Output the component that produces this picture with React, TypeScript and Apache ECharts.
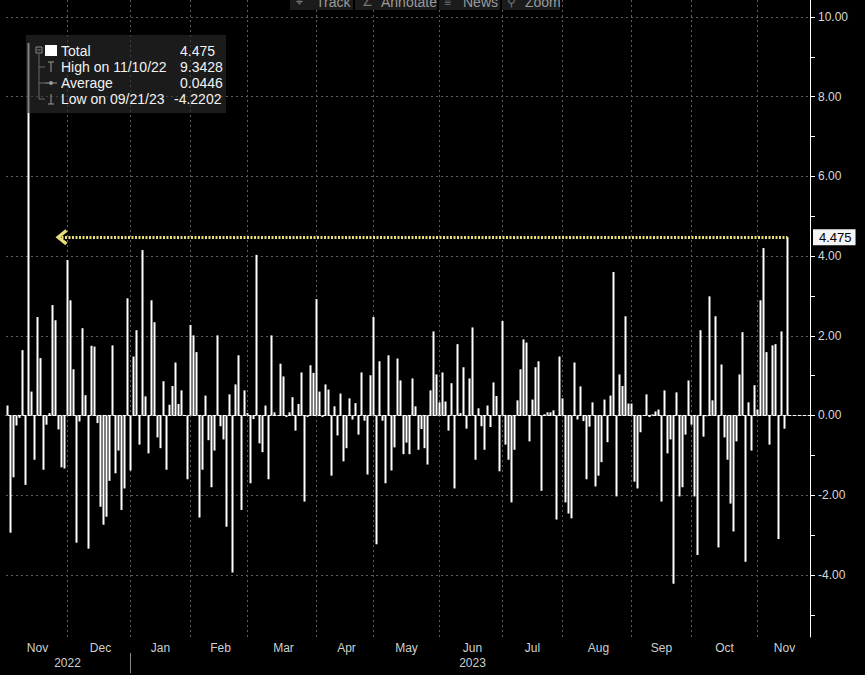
import React, { useEffect, useRef } from 'react';
import * as echarts from 'echarts';

// ---- data (daily % change, trading days) ----
const monthNames = ['Nov', 'Dec', 'Jan', 'Feb', 'Mar', 'Apr', 'May', 'Jun', 'Jul', 'Aug', 'Sep', 'Oct', 'Nov'];
const monthYears = [2022, 2022, 2023, 2023, 2023, 2023, 2023, 2023, 2023, 2023, 2023, 2023, 2023];
const nov22 = [0.25, -2.94, -1.55, -0.25, -0.06, 1.64, -1.74, 9.3428, 0.6, -1.11, 2.47, 1.44, -1.36, -0.23, 0.06, 2.77, 2.39, -0.35, -1.3, -1.33, 3.9];
const dec22 = [2.89, 1.16, -3.19, -0.15, 2.19, 0.51, -3.34, 1.75, 1.73, -0.19, -2.29, -2.74, -2.54, -1.64, 1.76, -1.45, -0.88, -2.37, -1.83, 2.94, -1.38];
const jan23 = [1.48, 2.14, -0.73, 4.15, 0.48, -0.95, 2.89, 2.34, -0.55, -0.82, 0.86, -1.36, 0.27, 0.74, 1.33, 0.29, 0.63, 0.01, -1.6, 2.27];
const feb23 = [2.01, 1.59, -2.56, -1.36, 0.5, -0.62, -1.8, -0.88, 2.01, -0.27, -0.6, -2.79, 0.53, -3.94, 0.78, 1.51, -2.37, 0.63, 0.06];
const mar23 = [-1.7, -0.09, 4.03, -0.7, -0.92, 0.25, -1.6, 2.01, 0.08, 0.01, 1.3, 0.98, -0.04, 0.08, 0.46, -0.38, 0.29, 1.08, -2.16, -0.04, 1.26, 1.07, 2.92];
const apr23 = [0.6, -0.04, 0.78, 0.65, -1.51, 0.23, -0.5, 0.55, -1.15, -0.82, 0.43, -0.1, 0.31, -0.48, 1.08, -0.13, -1.48, 1.01, 2.47];
const may23 = [-3.23, 1.36, -0.13, -1.7, 1.51, -1.38, -0.8, 1.43, 0.88, -0.97, -0.68, -0.97, 0.93, 0.23, -0.86, -0.34, -0.82, -1.23, 0.63, 2.11, 1.03, 0.33];
const jun23 = [1.08, 0.35, -0.38, 0.81, -1.83, 1.79, 0.06, 1.21, -0.33, 0.93, 2.21, -1.11, 0.18, -0.27, -0.86, 0.25, -0.29, 0.83, 0.49, -1.4, 2.37];
const jul23 = [-0.73, -1.11, -2.18, -0.86, 0.38, 1.16, 1.91, 1.83, -0.65, 0.4, 1.21, 1.36, -1.89, 0.03, 0.08, 0.08, 0.13, -2.61, 1.48, 0.43];
const aug23 = [-2.18, -2.46, -2.58, 1.33, -0.1, 0.73, -0.14, -1.6, -0.28, 0.33, -1.78, -1.51, -1.17, 0.4, -0.67, 0.5, 3.6, -2.03, 1.03, 0.74, 2.49, 0.3, 0.3];
const sep23 = [-1.66, -1.83, -0.42, -0.01, 0.53, -0.04, 0.03, 0.1, 0.15, -2.16, 0.63, -0.95, -0.6, -4.2202, 0.58, -2.03, -1.8, -0.48, 0.88, -0.23];
const oct23 = [-2.03, -3.5, 2.14, -0.53, -0.02, 2.99, 0.38, 2.49, -3.31, 1.28, -0.55, -1.11, -2.21, -2.91, -0.65, 1.03, 2.09, -3.67, 0.33, -0.88, 0.76, 0.15];
const nov23 = [2.89, 4.2, 1.59, -0.73, 1.76, 1.79, -3.1, 2.11, -0.33, 4.475];
const monthValues = [nov22, dec22, jan23, feb23, mar23, apr23, may23, jun23, jul23, aug23, sep23, oct23, nov23];

const yTickValues = [-4, -2, 0, 2, 4, 6, 8, 10];
const yMinorValues = [-5, -4, -3, -2, -1, 0, 1, 2, 3, 4, 5, 6, 7, 8, 9, 10];

const legendLabels = ['Total', 'High on 11/10/22', 'Average', 'Low on 09/21/23'];
const legendValues = ['4.475', '9.3428', '0.0446', '-4.2202'];
const toolbarLabels = ['Track', 'Annotate', 'News', 'Zoom'];

// ---- layout / style constants ----
const PAD_SLOTS = 7;
const ARROW_START = 18;
const FONT = '"Liberation Sans", Arial, sans-serif';
const GRID_COLOR = '#5e5e5e';
const TOP_Z = 100;

function withZ(items: any[]) {
  return items.map((it) => ({ ...it, z: TOP_Z }));
}

export default function App() {
  const ref = useRef<HTMLDivElement>(null);

  useEffect(() => {
    if (!ref.current) return;
    const chart = echarts.init(ref.current, undefined, { renderer: 'svg' });

    const cats: string[] = [];
    const values: (number | null)[] = [];
    const starts: number[] = [];
    monthValues.forEach((arr, m) => {
      starts.push(cats.length);
      arr.forEach((v, d) => {
        cats.push(`${monthNames[m]} ${monthYears[m]} #${d + 1}`);
        values.push(v);
      });
    });
    const nData = cats.length;
    for (let i = 0; i < PAD_SLOTS; i++) {
      cats.push(`pad ${i}`);
      values.push(null);
    }
    const total = cats.length;
    const lastIdx = nData - 1;
    const lastValue = values[lastIdx] as number;

    // month label positions: centre of the span between month separators
    const monthLabelAt = new Map<number, string>();
    monthNames.forEach((name, m) => {
      const a = m === 0 ? -0.5 : starts[m] - 1;
      const b = m === monthNames.length - 1 ? total - 0.5 : starts[m + 1] - 1;
      monthLabelAt.set(Math.round((a + b) / 2), name);
    });
    // year labels
    const yearLabelAt = new Map<number, string>();
    const firstYearEnd = starts[monthYears.indexOf(2023)];
    yearLabelAt.set(Math.floor((firstYearEnd - 1) / 2), '2022');
    yearLabelAt.set(Math.round((firstYearEnd + total - 1) / 2), '2023');

    const vLines = starts.slice(1).map((s) => ({ xAxis: cats[s - 1] }));
    const hLines = yTickValues.map((v) => ({ yAxis: v }));

    const chevron = 'path://M5,0 L10,7 L8.3,8.5 L5,3.6 L1.7,8.5 L0,7 Z';

    const toolbarItems = withZ([
      { type: 'rect', shape: { x: 290, y: -4, width: 63, height: 14 }, style: { fill: '#1b1b1b' } },
      { type: 'rect', shape: { x: 355, y: -4, width: 82, height: 14 }, style: { fill: '#1b1b1b' } },
      { type: 'rect', shape: { x: 439, y: -4, width: 61, height: 14 }, style: { fill: '#1b1b1b' } },
      { type: 'rect', shape: { x: 502, y: -4, width: 58, height: 14 }, style: { fill: '#1b1b1b' } },
      { type: 'text', x: 296, y: 2, style: { text: '⌖', fill: '#777', font: `12px ${FONT}`, verticalAlign: 'middle' } },
      { type: 'text', x: 316, y: 2, style: { text: toolbarLabels[0], fill: '#9a9a9a', font: `14px ${FONT}`, verticalAlign: 'middle' } },
      { type: 'text', x: 362, y: 2, style: { text: '∠', fill: '#777', font: `12px ${FONT}`, verticalAlign: 'middle' } },
      { type: 'text', x: 381, y: 2, style: { text: toolbarLabels[1], fill: '#9a9a9a', font: `14px ${FONT}`, verticalAlign: 'middle' } },
      { type: 'text', x: 444, y: 2, style: { text: '≡', fill: '#777', font: `12px ${FONT}`, verticalAlign: 'middle' } },
      { type: 'text', x: 463, y: 2, style: { text: toolbarLabels[2], fill: '#9a9a9a', font: `14px ${FONT}`, verticalAlign: 'middle' } },
      { type: 'text', x: 507, y: 2, style: { text: '⚲', fill: '#777', font: `12px ${FONT}`, verticalAlign: 'middle' } },
      { type: 'text', x: 525, y: 2, style: { text: toolbarLabels[3], fill: '#9a9a9a', font: `14px ${FONT}`, verticalAlign: 'middle' } },
    ]);

    const legendItems = withZ([
      { type: 'rect', shape: { x: 26, y: 35, width: 200, height: 78 }, style: { fill: 'rgba(45,45,45,0.6)' } },
      { type: 'rect', shape: { x: 36, y: 47, width: 6, height: 6 }, style: { fill: 'none', stroke: '#8a8a8a', lineWidth: 1 } },
      { type: 'line', shape: { x1: 37.5, y1: 50, x2: 40.5, y2: 50 }, style: { stroke: '#8a8a8a', lineWidth: 1 } },
      { type: 'line', shape: { x1: 39, y1: 54, x2: 39, y2: 99 }, style: { stroke: '#6a6a6a', lineWidth: 1 } },
      { type: 'line', shape: { x1: 39, y1: 67, x2: 45, y2: 67 }, style: { stroke: '#6a6a6a', lineWidth: 1 } },
      { type: 'line', shape: { x1: 39, y1: 83, x2: 45, y2: 83 }, style: { stroke: '#6a6a6a', lineWidth: 1 } },
      { type: 'line', shape: { x1: 39, y1: 99, x2: 45, y2: 99 }, style: { stroke: '#6a6a6a', lineWidth: 1 } },
      { type: 'rect', shape: { x: 45, y: 45, width: 12, height: 11 }, style: { fill: '#ffffff' } },
      { type: 'line', shape: { x1: 48, y1: 62, x2: 54, y2: 62 }, style: { stroke: '#9a9a9a', lineWidth: 1 } },
      { type: 'line', shape: { x1: 51, y1: 62, x2: 51, y2: 72 }, style: { stroke: '#9a9a9a', lineWidth: 1 } },
      { type: 'line', shape: { x1: 45, y1: 83, x2: 57, y2: 83 }, style: { stroke: '#9a9a9a', lineWidth: 1 } },
      { type: 'circle', shape: { cx: 51, cy: 83, r: 2 }, style: { fill: '#9a9a9a' } },
      { type: 'line', shape: { x1: 51, y1: 94, x2: 51, y2: 104 }, style: { stroke: '#9a9a9a', lineWidth: 1 } },
      { type: 'line', shape: { x1: 48, y1: 104, x2: 54, y2: 104 }, style: { stroke: '#9a9a9a', lineWidth: 1 } },
      ...legendLabels.map((t, i) => ({
        type: 'text',
        x: 61,
        y: 51 + i * 16,
        style: { text: t, fill: '#f2f2f2', font: `14px ${FONT}`, verticalAlign: 'middle' },
      })),
      ...legendValues.map((t, i) => ({
        type: 'text',
        x: t.startsWith('-') ? 174 : 180,
        y: 51 + i * 16,
        style: { text: t, fill: '#f2f2f2', font: `14px ${FONT}`, verticalAlign: 'middle' },
      })),
    ]);

    const option: any = {
      animation: false,
      backgroundColor: '#000',
      grid: { left: 6, right: 55, top: 0, bottom: 38, containLabel: false },
      xAxis: [
        {
          type: 'category',
          data: cats,
          boundaryGap: true,
          position: 'bottom',
          axisLine: { show: true, lineStyle: { color: '#ffffff', width: 1 } },
          axisTick: { show: false },
          splitLine: { show: false },
          axisLabel: {
            interval: (i: number) => monthLabelAt.has(i),
            formatter: (_v: string, i: number) => monthLabelAt.get(i) ?? '',
            color: '#cfcfcf',
            fontSize: 12,
            margin: 5,
            fontFamily: FONT,
          },
        },
        {
          type: 'category',
          data: cats,
          boundaryGap: true,
          position: 'bottom',
          offset: 15,
          axisLine: { show: false },
          axisTick: { show: false },
          splitLine: { show: false },
          axisLabel: {
            interval: (i: number) => yearLabelAt.has(i),
            formatter: (_v: string, i: number) => yearLabelAt.get(i) ?? '',
            color: '#cfcfcf',
            fontSize: 12,
            margin: 5,
            fontFamily: FONT,
          },
        },
      ],
      yAxis: {
        type: 'value',
        position: 'right',
        min: -5.557,
        max: 10.424,
        axisLine: { show: true, lineStyle: { color: '#ffffff', width: 1 } },
        axisTick: { show: true, customValues: yMinorValues, length: 5, lineStyle: { color: '#ffffff' } },
        axisLabel: {
          customValues: yTickValues,
          formatter: (v: number) => v.toFixed(2),
          color: '#d8d8d8',
          fontSize: 12,
          margin: 8,
          fontFamily: FONT,
        },
        splitLine: { show: false },
      },
      series: [
        {
          type: 'line',
          data: [],
          silent: true,
          markLine: {
            silent: true,
            z: 1,
            symbol: 'none',
            label: { show: false },
            lineStyle: { color: GRID_COLOR, type: [2, 3], width: 1 },
            data: [...vLines, ...hLines],
          },
        },
        {
          type: 'bar',
          data: values,
          barWidth: 2,
          z: 2,
          silent: true,
          itemStyle: { color: '#ffffff' },
          markLine: {
            silent: true,
            z: 6,
            symbol: [chevron, 'none'],
            symbolSize: [16, 12],
            label: { show: false },
            lineStyle: { color: '#e6df7a', type: [2, 1.5], width: 3 },
            data: [[{ coord: [cats[ARROW_START], lastValue] }, { coord: [cats[lastIdx], lastValue] }]],
          },
        },
        {
          type: 'line',
          data: [],
          silent: true,
          markLine: {
            silent: true,
            z: 7,
            symbol: 'none',
            lineStyle: { color: 'rgba(0,0,0,0)', width: 1 },
            label: {
              show: true,
              position: 'end',
              distance: 3,
              formatter: () => String(lastValue),
              backgroundColor: '#f4f4f4',
              color: '#000',
              fontSize: 13,
              fontFamily: FONT,
              padding: [2, 4, 1, 6],
            },
            data: [{ yAxis: lastValue }],
          },
        },
      ],
      graphic: [...toolbarItems, ...legendItems],
    };

    chart.setOption(option);

    // year separator below the axis, at the last bar of 2022
    const sepX = chart.convertToPixel({ xAxisIndex: 0 }, cats[firstYearEnd - 1]) as number;
    chart.setOption({
      graphic: [
        ...toolbarItems,
        ...legendItems,
        {
          type: 'line',
          z: TOP_Z,
          shape: { x1: sepX, y1: 653, x2: sepX, y2: 673 },
          style: { stroke: '#8a8a8a', lineWidth: 1 },
        },
      ],
    });
    return () => chart.dispose();
  }, []);

  return (
    <div
      ref={ref}
      style={{ position: 'absolute', left: 0, top: 0, width: 865, height: 675, background: '#000' }}
    />
  );
}
